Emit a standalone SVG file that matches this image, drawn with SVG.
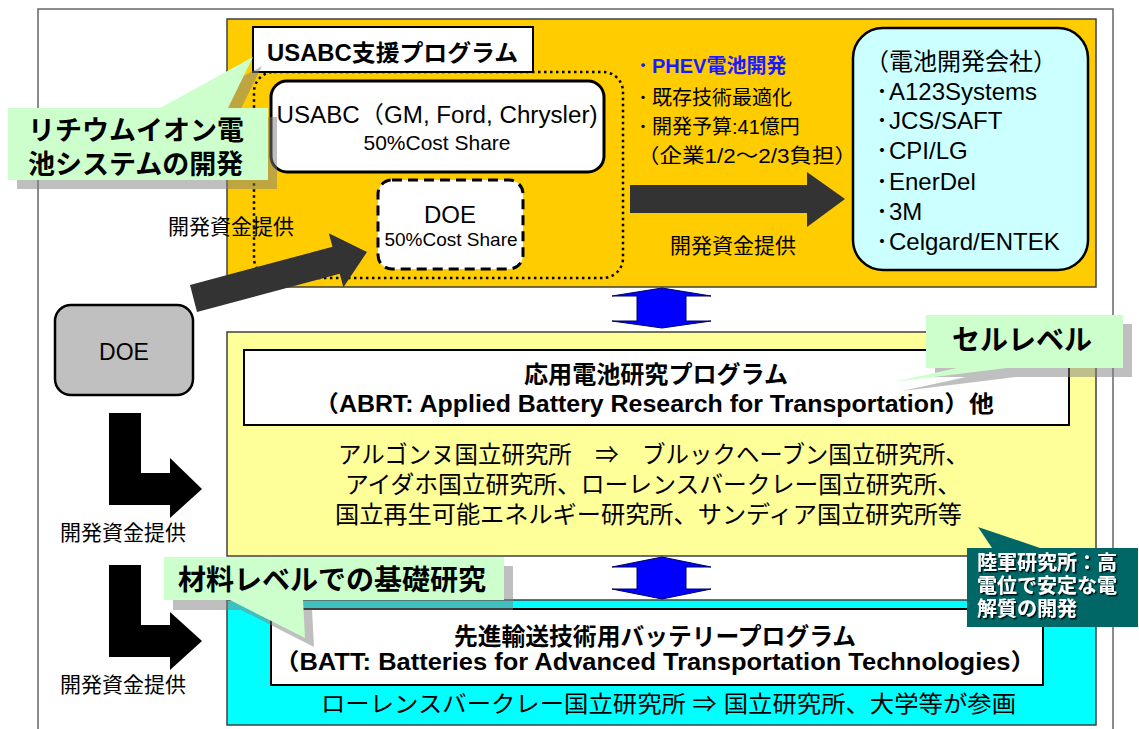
<svg xmlns="http://www.w3.org/2000/svg" width="1139" height="729" viewBox="0 0 1139 729">
<defs>
<style>
text { font-family: "Liberation Sans", "Noto Sans CJK JP", sans-serif; fill: #000; }
.jp { font-family: "Noto Sans CJK JP", sans-serif; }
.b { font-weight: bold; }
.callout { fill: #ccffcc; }
.shadow { fill: #808080; }
.dark { fill: #333333; }
.blk { fill: #000000; }
.barrow { fill: #0000ff; stroke: #000066; stroke-width: 1; }
.sec { stroke: #404040; stroke-width: 1.5; }
.wbox { fill: #ffffff; stroke: #000000; stroke-width: 2; }
.t20 { font-size: 20px; }
.t21 { font-size: 21px; }
.t24 { font-size: 24px; }
.wt { fill: #ffffff; }
</style>
<filter id="ts" x="-10%" y="-20%" width="120%" height="140%">
<feDropShadow dx="1.5" dy="1.5" stdDeviation="0.3" flood-color="#000000" flood-opacity="0.85"/>
</filter>
</defs>

<rect width="1139" height="729" fill="#ffffff"/>
<rect id="frame" x="38" y="9" width="1075" height="730" fill="#ffffff" stroke="#666666" stroke-width="1.5"/>

<!-- sections -->
<rect id="usabc-section" class="sec" x="227" y="19" width="869" height="268" fill="#ffcc00"/>
<rect id="abrt-section" class="sec" x="227" y="332" width="869" height="224" fill="#ffff99"/>
<rect id="batt-section" class="sec" x="227" y="600" width="869" height="125" fill="#00ffff"/>

<!-- USABC support program -->
<g id="usabc-program">
<rect x="254" y="72" width="369" height="206" rx="20" fill="none" stroke="#000" stroke-width="2.5" stroke-dasharray="2.5 3.5"/>
<rect x="253" y="27" width="280" height="45" fill="#ffffff" stroke="#000" stroke-width="2"/>
<text class="b" x="267" y="61" font-size="23" textLength="251" lengthAdjust="spacingAndGlyphs">USABC支援プログラム</text>
</g>

<g id="usabc">
<rect x="271" y="81" width="333" height="91" rx="16" fill="#ffffff" stroke="#000" stroke-width="3"/>
<text x="437" y="123" font-size="23" text-anchor="middle" textLength="321" lengthAdjust="spacingAndGlyphs">USABC（GM, Ford, Chrysler)</text>
<text x="437" y="150" font-size="21" text-anchor="middle">50%Cost Share</text>
</g>

<g id="doe-share">
<rect x="378" y="180" width="145" height="89" rx="14" fill="#ffffff" stroke="#000" stroke-width="3" stroke-dasharray="10 6"/>
<text x="450" y="223" font-size="24" text-anchor="middle">DOE</text>
<text x="451" y="246" font-size="19" text-anchor="middle">50%Cost Share</text>
</g>

<g id="phev-text">
<text class="b t20" x="638" y="73" style="fill:#1a1aff">･<tspan x="652">PHEV電池開発</tspan></text>
<text class="t20" x="638" y="105">･<tspan x="652">既存技術最適化</tspan></text>
<text class="t20" x="638" y="134">･<tspan x="652">開発予算:41億円</tspan></text>
<text class="t20" x="637" y="163" textLength="220" lengthAdjust="spacingAndGlyphs">（企業1/2～2/3負担）</text>
<text class="t21" x="670" y="253">開発資金提供</text>
</g>

<g id="companies">
<rect x="853" y="28" width="235" height="242" rx="30" fill="#ccffff" stroke="#000" stroke-width="2.5"/>
<text x="865" y="70" font-size="24">（電池開発会社）</text>
<g font-size="24">
<text x="876" y="100">･<tspan x="889">A123Systems</tspan></text>
<text x="876" y="129">･<tspan x="889">JCS/SAFT</tspan></text>
<text x="876" y="159">･<tspan x="889">CPI/LG</tspan></text>
<text x="876" y="190">･<tspan x="889">EnerDel</tspan></text>
<text x="876" y="220">･<tspan x="889">3M</tspan></text>
<text x="876" y="250">･<tspan x="889">Celgard/ENTEK</tspan></text>
</g>
</g>

<g id="doe">
<rect x="55" y="305" width="138" height="90" rx="16" fill="#c0c0c0" stroke="#000" stroke-width="2.5"/>
<text x="124" y="360" font-size="23" text-anchor="middle">DOE</text>
</g>

<text id="fund-label-top" class="t21" x="168" y="234">開発資金提供</text>
<text id="fund-label-1" class="t21" x="60" y="540">開発資金提供</text>
<text id="fund-label-2" class="t21" x="60" y="692">開発資金提供</text>

<g id="abrt">
<rect class="wbox" x="244" y="350" width="825" height="75"/>
<text class="b" x="524" y="383" font-size="24" textLength="264" lengthAdjust="spacingAndGlyphs">応用電池研究プログラム</text>
<text class="b" x="314" y="412" font-size="23" textLength="680" lengthAdjust="spacingAndGlyphs">（ABRT: Applied Battery Research for Transportation）他</text>
</g>

<g id="abrt-labs" font-size="24">
<text x="338" y="463" textLength="631" lengthAdjust="spacingAndGlyphs">アルゴンヌ国立研究所　⇒　ブルックヘーブン国立研究所、</text>
<text x="345" y="493" textLength="616" lengthAdjust="spacingAndGlyphs">アイダホ国立研究所、ローレンスバークレー国立研究所、</text>
<text x="335" y="523" textLength="627" lengthAdjust="spacingAndGlyphs">国立再生可能エネルギー研究所、サンディア国立研究所等</text>
</g>

<g id="batt">
<rect class="wbox" x="271" y="609" width="772" height="76"/>
<text class="b" x="454" y="645" font-size="24" textLength="402" lengthAdjust="spacingAndGlyphs">先進輸送技術用バッテリープログラム</text>
<text class="b" x="274" y="670" font-size="23" textLength="762" lengthAdjust="spacingAndGlyphs">（BATT: Batteries for Advanced Transportation Technologies）</text>
</g>
<text id="batt-labs" x="321" y="712" font-size="23" textLength="695" lengthAdjust="spacingAndGlyphs">ローレンスバークレー国立研究所 ⇒ 国立研究所、大学等が参画</text>

<!-- connectors -->
<g id="connectors">
<polygon class="dark" points="190,285 332.5,246.8 328.8,233.3 367,252 343.4,287.3 339.7,273.8 197,312"/>
<polygon class="dark" points="630,185 807,185 807,172 845,199 807,227 807,213 630,213"/>
<polygon class="blk" points="109,413 141,413 141,473 170,473 170,458 202,489 170,518 170,505 109,505"/>
<polygon class="blk" points="109,565 141,565 141,625 170,625 170,612 202,641 170,670 170,657 109,657"/>
<polygon class="barrow" points="662,288 711,296 686,296 686,321 711,321 662,328 612,321 637,321 637,296 612,296"/>
<polygon class="barrow" points="662,557 711,567 686,567 686,589 711,589 662,599 612,589 637,589 637,567 612,567"/>
</g>

<!-- callouts -->
<g id="callout-li-ion">
<g opacity="0.5" class="shadow">
<rect x="17" y="117" width="260" height="72"/>
<polygon points="169,117 262,66 237,117"/>
</g>
<rect class="callout" x="8" y="108" width="260" height="72"/>
<polygon class="callout" points="160,108 253,57 228,108"/>
<text class="jp b" x="28" y="140" font-size="27">リチウムイオン電</text>
<text class="jp b" x="28" y="174" font-size="27">池システムの開発</text>
</g>

<g id="callout-cell">
<g opacity="0.5" class="shadow">
<rect x="935" y="324" width="197" height="53"/>
<polygon points="902,391 966,377 1016,377"/>
</g>
<rect class="callout" x="926" y="315" width="197" height="53"/>
<polygon class="callout" points="893,382 957,368 1007,368"/>
<text class="jp b" x="952" y="350" font-size="28">セルレベル</text>
</g>

<g id="callout-material">
<g opacity="0.5" class="shadow">
<rect x="173" y="566" width="340" height="44"/>
<polygon points="239,609 314,647 312,609"/>
</g>
<rect class="callout" x="164" y="557" width="340" height="43"/>
<polygon class="callout" points="230,600 305,638 303,600"/>
<text class="jp b" x="178" y="590" font-size="28">材料レベルでの基礎研究</text>
</g>

<g id="callout-army">
<polygon fill="#006666" points="978,527 992,548 1040,548"/>
<rect x="967" y="548" width="171" height="79" fill="#006666"/>
<g filter="url(#ts)">
<text class="jp b wt" x="977" y="570" font-size="20">陸軍研究所：高</text>
<text class="jp b wt" x="977" y="593" font-size="20">電位で安定な電</text>
<text class="jp b wt" x="977" y="616" font-size="20">解質の開発</text>
</g>
</g>
</svg>
